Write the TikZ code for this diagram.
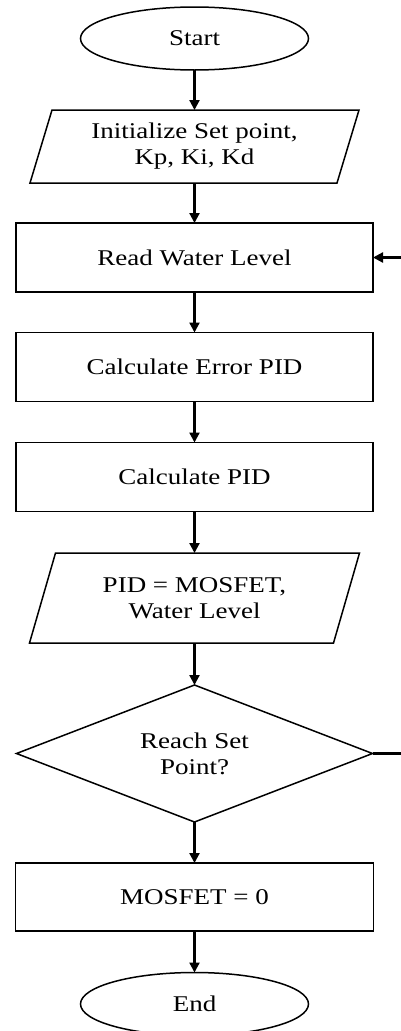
\documentclass[tikz,border=0pt]{standalone}
\usepackage{fontspec}
\setmainfont[FakeStretch=1.2]{Liberation Serif}
\usetikzlibrary{shapes.geometric,arrows.meta}
\begin{document}
\begin{tikzpicture}[x=1pt,y=-1pt,
  every node/.style={inner sep=0pt,outer sep=0pt,align=center,
    font=\fontsize{22.5}{26}\selectfont},
  terminal/.style={draw,ellipse,line width=1.5pt,minimum width=228,minimum height=63},
  procbox/.style={draw,rectangle,line width=1.5pt,minimum width=357,minimum height=69},
  iobox/.style={rectangle,minimum width=307,minimum height=73},
  decision/.style={draw,diamond,aspect=2.6,line width=1.5pt,minimum width=356,minimum height=137},
  parashape/.style={line width=1.5pt},
  flow/.style={line width=2.2pt,-{Triangle[length=10pt,width=10pt]}},
  plainline/.style={line width=2.2pt}
]
\useasboundingbox (0,0) rectangle (401,1031);

\node[terminal] (start) at (194.5,38.5) {Start};
\node[iobox] (init) at (194.5,146.5) {Initialize Set point,\\Kp, Ki, Kd};
\draw[parashape] ([xshift=11pt]init.north west) -- ([xshift=11pt]init.north east)
  -- ([xshift=-11pt]init.south east) -- ([xshift=-11pt]init.south west) -- cycle;
\node[procbox] (read) at (194.5,257.5) {Read Water Level};
\node[procbox] (err) at (194.5,367) {Calculate Error PID};
\node[procbox] (pid) at (194.5,477) {Calculate PID};
\node[iobox,minimum width=304,minimum height=90] (out) at (194.5,598) {PID = MOSFET,\\Water Level};
\draw[parashape] ([xshift=13pt]out.north west) -- ([xshift=13pt]out.north east)
  -- ([xshift=-13pt]out.south east) -- ([xshift=-13pt]out.south west) -- cycle;
\node[decision] (reach) at (194.5,753.5) {Reach Set\\Point?};
\node[procbox,minimum width=358,minimum height=68] (mos) at (194.5,897) {MOSFET = 0};
\node[terminal] (end) at (194.5,1004) {End};

\coordinate (loopin) at (401,257.5);
\coordinate (loopout) at (401,753.5);

\draw[flow] (start) -- (init);
\draw[flow] (init) -- (read);
\draw[flow] (read) -- (err);
\draw[flow] (err) -- (pid);
\draw[flow] (pid) -- (out);
\draw[flow] (out) -- (reach);
\draw[flow] (reach) -- (mos);
\draw[flow] (mos) -- (end);
\draw[plainline] (reach.east) -- (loopout);
\draw[flow] (loopin) -- (read.east);
\end{tikzpicture}
\end{document}
